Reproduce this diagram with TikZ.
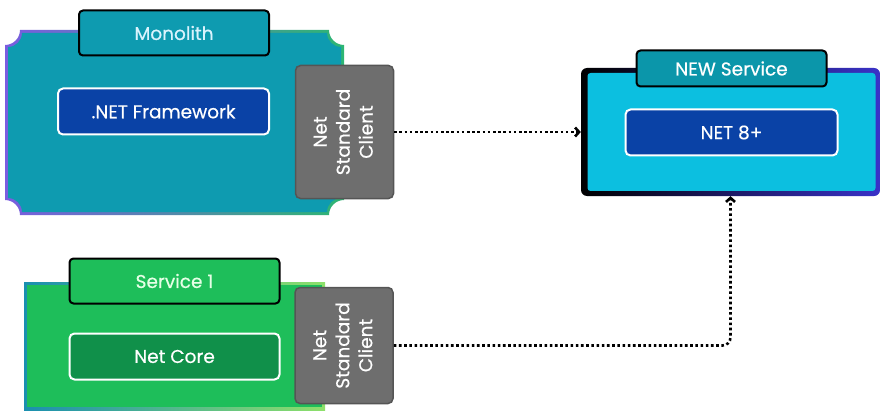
\documentclass[tikz,border=0pt]{standalone}
\usepackage{fontspec}
\setmainfont{Poppins}[FakeBold=0.5]
\usetikzlibrary{arrows.meta}
\definecolor{monofill}{HTML}{0E9BB0}
\definecolor{monoleft}{HTML}{7A5CE0}
\definecolor{monoright}{HTML}{2DB673}
\definecolor{fwblue}{HTML}{0A42A6}
\definecolor{clientgray}{HTML}{6E6E6E}
\definecolor{clientedge}{HTML}{555555}
\definecolor{svcfill}{HTML}{1EBE5A}
\definecolor{svcleft}{HTML}{1A8FB0}
\definecolor{svcright}{HTML}{8EE06A}
\definecolor{corefill}{HTML}{10904A}
\definecolor{newfill}{HTML}{0CBFE0}
\definecolor{newtab}{HTML}{0B96AA}
\definecolor{newright}{HTML}{3A32C8}
\newcommand{\ticket}[5]{%
 (#1,#2+#5) .. controls (#1+0.55*#5,#2+#5) and (#1+#5,#2+0.55*#5) .. (#1+#5,#2)
 -- (#3-#5,#2) .. controls (#3-#5,#2+0.55*#5) and (#3-0.55*#5,#2+#5) .. (#3,#2+#5)
 -- (#3,#4-#5) .. controls (#3-0.55*#5,#4-#5) and (#3-#5,#4-0.55*#5) .. (#3-#5,#4)
 -- (#1+#5,#4) .. controls (#1+#5,#4-0.55*#5) and (#1+0.55*#5,#4-#5) .. (#1,#4-#5) -- cycle}
\tikzset{
  tab/.style={draw=black, line width=2pt, rounded corners=4pt, inner sep=0pt, text=#1},
  tab/.default=white,
  inner/.style={draw=white, line width=2pt, rounded corners=5pt, inner sep=0pt, text=white},
  client/.style={draw=clientedge, fill=clientgray, line width=1.5pt, rounded corners=5pt,
    inner sep=0pt, text=white, align=center},
  flow/.style={line width=2.6pt, dash pattern=on 2.6pt off 2.6pt,
    -{Straight Barb[length=4pt,width=9pt]}}
}
\begin{document}
\begin{tikzpicture}[x=1pt, y=-1pt, font=\fontsize{18.5}{26}\selectfont]
  \useasboundingbox (0,0) rectangle (880,414);
  \shade[left color=monoleft, right color=monoright] \ticket{5}{30}{344}{215}{15};
  \fill[monofill] \ticket{8}{33}{341}{212}{14};
  \node[tab=cyan!15, fill=monofill, minimum width=190pt, minimum height=45pt] (mono) at (174,33) {Monolith};
  \node[inner, fill=fwblue, minimum width=211pt, minimum height=46pt] (fw) at (163.5,111.5) {.NET Framework};
  \node[client, minimum width=98pt, minimum height=133pt] (client1) at (344.5,132)
    {\rotatebox{90}{\begin{tabular}{c}Net\\[-3pt]Standard\\[-3pt]Client\end{tabular}}};
  \shade[left color=svcleft, right color=svcright] (24,282) rectangle (325,410);
  \fill[svcfill] (27,285) rectangle (322,407);
  \node[tab=green!10, fill=svcfill, minimum width=210pt, minimum height=45pt] (svc) at (174.5,281) {Service 1};
  \node[inner, fill=corefill, minimum width=210pt, minimum height=46pt] (core) at (174.5,356.5) {Net Core};
  \node[client, minimum width=98pt, minimum height=116pt] (client2) at (344,345.5)
    {\rotatebox{90}{\begin{tabular}{c}Net\\[-3pt]Standard\\[-3pt]Client\end{tabular}}};
  \node[shade, left color=black, right color=newright, rounded corners=6pt, inner sep=0pt,
    minimum width=299pt, minimum height=128pt] (newsvc) at (730.5,132) {};
  \node[fill=newfill, rounded corners=3pt, inner sep=0pt, minimum width=288pt, minimum height=118pt] at (731.5,132) {};
  \node[tab, fill=newtab, minimum width=190pt, minimum height=36pt] (newtab) at (731.5,68.5) {NEW Service};
  \node[inner, fill=fwblue, minimum width=212pt, minimum height=46pt] (net8) at (731.5,132.5) {NET 8+};
  \draw[flow] (client1.east) -- (client1.east -| newsvc.west);
  \draw[flow, rounded corners=8pt] (client2.east) -| (newsvc.south);
\end{tikzpicture}
\end{document}
